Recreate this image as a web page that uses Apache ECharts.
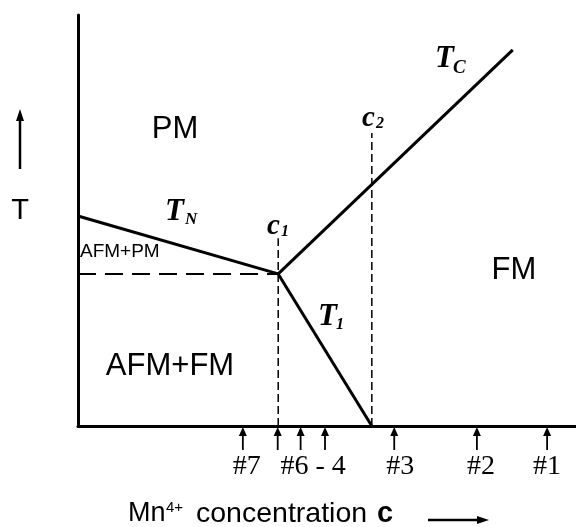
<!DOCTYPE html>
<html>
<head>
<meta charset="utf-8">
<script src="https://cdn.jsdelivr.net/npm/echarts@6/dist/echarts.min.js"></script>
<style>
html,body{margin:0;padding:0;background:#fff;}
#chart{width:576px;height:527px;}
</style>
</head>
<body>
<div id="chart"></div>
<script>
// ---- data (schematic units: c along x 0..100, T along y 0..100) ----
const tnLine = [[0, 51.1], [40.2, 37.0]];          // T_N boundary
const tcLine = [[40.2, 37.0], [87.3, 91.5]];       // T_C boundary
const t1Line = [[40.2, 37.0], [59.0, 0]];          // T_1 boundary
const afmDashed = [[0, 37.0], [40.2, 37.0]];       // horizontal dashed
const c1Dashed = [[40.2, 0], [40.2, 45.7]];        // c1 marker
const c2Dashed = [[59.0, 0], [59.0, 71.3]];        // c2 marker
const sampleArrowX = [33.1, 40.1, 44.7, 49.6, 63.5, 80.1, 94.2];
const sampleLabels = ['#7', '#6 - 4', '#3', '#2', '#1'];
const sampleLabelX = [33.9, 47.2, 64.7, 80.9, 94.2];

const chart = echarts.init(document.getElementById('chart'));
const SANS = '"Liberation Sans", Arial, sans-serif';
const SERIF = '"Liberation Serif", "Times New Roman", serif';

function lineSeries(data, width, type) {
  return {
    type: 'line', data: data, symbol: 'none', silent: true, clip: false,
    lineStyle: {color: '#000', width: width, type: type || 'solid', cap: 'butt'},
    animation: false
  };
}

function txt(text, x, y, font, align) {
  return {type: 'text', silent: true, style: {text: text, x: x, y: y, font: font, fill: '#000', textAlign: align || 'left', textVerticalAlign: 'middle'}};
}

const option = {
  animation: false,
  backgroundColor: '#fff',
  grid: {left: 78, right: 0, top: 15, bottom: 101},
  xAxis: {
    type: 'value', min: 0, max: 100,
    axisLine: {show: true, onZero: false, lineStyle: {color: '#000', width: 3}},
    axisTick: {show: false}, axisLabel: {show: false}, splitLine: {show: false}
  },
  yAxis: {
    type: 'value', min: 0, max: 100,
    axisLine: {show: true, onZero: false, lineStyle: {color: '#000', width: 3}},
    axisTick: {show: false}, axisLabel: {show: false}, splitLine: {show: false}
  },
  series: [
    lineSeries(tnLine, 3),
    lineSeries(tcLine, 3),
    lineSeries(t1Line, 3),
    lineSeries(afmDashed, 2, [18, 9]),
    lineSeries(c1Dashed, 1.5, [8, 4]),
    lineSeries(c2Dashed, 1.5, [8, 4]),
    {
      type: 'custom', clip: false, silent: true,
      data: sampleArrowX.map(function (x) { return [x, 0]; }),
      renderItem: function (params, api) {
        const p = api.coord([api.value(0), 0]);
        return {
          type: 'group',
          children: [
            {type: 'line', shape: {x1: p[0], y1: p[1] + 8, x2: p[0], y2: p[1] + 24}, style: {stroke: '#000', lineWidth: 1.8}},
            {type: 'polygon', shape: {points: [[p[0], p[1] + 1], [p[0] - 4, p[1] + 10], [p[0] + 4, p[1] + 10]]}, style: {fill: '#000'}}
          ]
        };
      }
    },
    {
      type: 'custom', clip: false, silent: true,
      data: sampleLabelX.map(function (x, i) { return [x, 0, sampleLabels[i]]; }),
      renderItem: function (params, api) {
        const p = api.coord([api.value(0), 0]);
        return {
          type: 'text',
          style: {text: sampleLabels[params.dataIndex], x: p[0], y: p[1] + 41, font: '28px ' + SERIF, fill: '#000', textAlign: 'center', textVerticalAlign: 'middle'}
        };
      }
    }
  ],
  graphic: [
    // region labels
    txt('PM', 175, 129, '31px ' + SANS, 'center'),
    txt('FM', 514, 270, '31px ' + SANS, 'center'),
    txt('AFM+FM', 170, 366, '31px ' + SANS, 'center'),
    txt('AFM+PM', 80, 252, '19px ' + SANS, 'left'),
    // boundary labels
    txt('T', 165, 212, 'italic bold 31px ' + SERIF, 'left'),
    txt('N', 185, 220, 'italic bold 17px ' + SERIF, 'left'),
    txt('c', 267, 227, 'italic bold 29px ' + SERIF, 'left'),
    txt('1', 281, 232, 'italic bold 16px ' + SERIF, 'left'),
    txt('T', 318, 317, 'italic bold 31px ' + SERIF, 'left'),
    txt('1', 336, 325, 'italic bold 16px ' + SERIF, 'left'),
    txt('c', 362, 119, 'italic bold 29px ' + SERIF, 'left'),
    txt('2', 376, 124, 'italic bold 16px ' + SERIF, 'left'),
    txt('T', 435, 59, 'italic bold 31px ' + SERIF, 'left'),
    txt('C', 453, 68, 'italic bold 19px ' + SERIF, 'left'),
    // y-axis title
    txt('T', 20, 211, '29px ' + SANS, 'center'),
    {type: 'line', silent: true, shape: {x1: 20, y1: 169, x2: 20, y2: 118}, style: {stroke: '#000', lineWidth: 2.5}},
    {type: 'polygon', silent: true, shape: {points: [[20, 109], [16, 121], [24, 121]]}, style: {fill: '#000'}},
    // x-axis title
    txt('Mn', 128, 514, '27px ' + SANS, 'left'),
    txt('4+', 166, 508, '15px ' + SANS, 'left'),
    txt('concentration', 196, 514, '28.5px ' + SANS, 'left'),
    txt('c', 377, 514, 'bold 29px ' + SANS, 'left'),
    {type: 'line', silent: true, shape: {x1: 428, y1: 520, x2: 480, y2: 520}, style: {stroke: '#000', lineWidth: 2.5}},
    {type: 'polygon', silent: true, shape: {points: [[489, 520], [477, 516], [477, 524]]}, style: {fill: '#000'}}
  ]
};
chart.setOption(option);
</script>
</body>
</html>
